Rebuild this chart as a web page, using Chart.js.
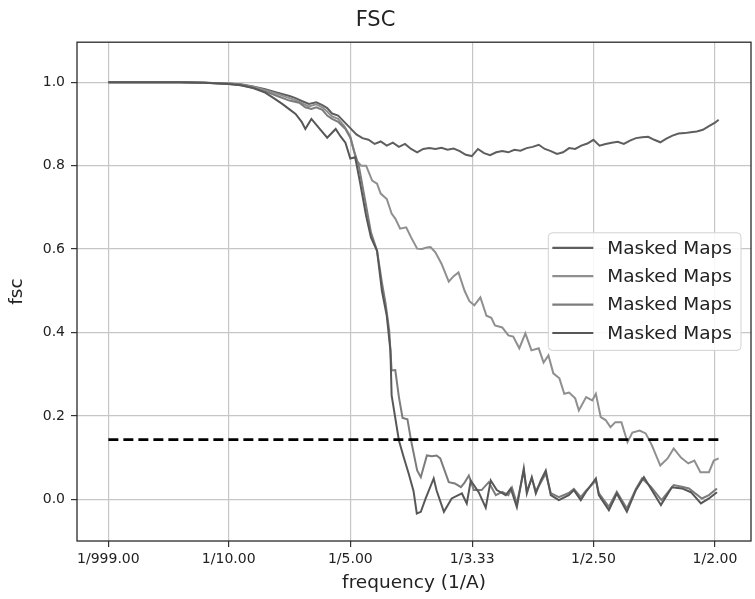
<!DOCTYPE html>
<html>
<head>
<meta charset="utf-8">
<script src="https://cdn.jsdelivr.net/npm/chart.js@4.4.1/dist/chart.umd.min.js"></script>
<style>
  body { margin: 0; background: #fff; }
  canvas { display: block; }
</style>
</head>
<body>
<canvas id="graph1" width="755" height="599"></canvas>
<script>
// tick values / labels (x is spatial frequency, labels are 1/resolution)
const xTickValues = [1 / 999, 1 / 10, 1 / 5, 1 / 3.33, 1 / 2.5, 1 / 2];
const xTickLabels = ['1/999.00', '1/10.00', '1/5.00', '1/3.33', '1/2.50', '1/2.00'];
const yTickValues = [0, 0.2, 0.4, 0.6, 0.8, 1.0];

const seriesLabels = ['Masked Maps', 'Masked Maps', 'Masked Maps', 'Masked Maps'];
const seriesColors = ['#5e5e5e', '#8f8f8f', '#7c7c7c', '#575757'];
const threshold = 0.143;

// [frequency, fsc]
const curve1 = [
  [0.001, 1.0], [0.02, 1.0], [0.04, 1.0], [0.06, 1.0], [0.08, 0.999], [0.10, 0.997], [0.11, 0.995],
  [0.12, 0.99], [0.13, 0.983], [0.14, 0.975], [0.15, 0.967], [0.155, 0.962], [0.16, 0.955],
  [0.166, 0.948], [0.172, 0.952], [0.177, 0.945], [0.181, 0.938], [0.185, 0.925], [0.19, 0.92],
  [0.195, 0.905], [0.20, 0.89], [0.205, 0.875], [0.21, 0.866], [0.215, 0.862], [0.22, 0.852],
  [0.225, 0.858], [0.23, 0.848], [0.235, 0.855], [0.24, 0.845], [0.245, 0.852], [0.25, 0.84],
  [0.255, 0.832], [0.26, 0.84], [0.265, 0.842], [0.27, 0.84], [0.275, 0.843], [0.28, 0.838],
  [0.285, 0.841], [0.29, 0.835], [0.295, 0.826], [0.30, 0.823], [0.305, 0.84], [0.31, 0.83],
  [0.315, 0.825], [0.32, 0.832], [0.325, 0.835], [0.33, 0.832], [0.335, 0.838], [0.34, 0.836],
  [0.345, 0.842], [0.35, 0.845], [0.355, 0.85], [0.36, 0.84], [0.365, 0.835], [0.37, 0.828],
  [0.375, 0.832], [0.38, 0.842], [0.385, 0.84], [0.39, 0.848], [0.395, 0.853], [0.40, 0.862],
  [0.405, 0.848], [0.41, 0.852], [0.415, 0.855], [0.42, 0.857], [0.425, 0.852], [0.43, 0.86],
  [0.435, 0.866], [0.44, 0.868], [0.445, 0.869], [0.45, 0.862], [0.455, 0.856], [0.46, 0.865],
  [0.465, 0.872], [0.47, 0.877], [0.475, 0.878], [0.48, 0.88], [0.485, 0.882], [0.49, 0.886],
  [0.495, 0.895], [0.50, 0.903], [0.503, 0.91]
];

const curve2 = [
  [0.001, 1.0], [0.02, 1.0], [0.04, 1.0], [0.06, 1.0], [0.08, 0.999], [0.10, 0.997], [0.11, 0.994],
  [0.12, 0.989], [0.13, 0.981], [0.14, 0.972], [0.15, 0.962], [0.155, 0.957], [0.16, 0.95],
  [0.166, 0.942], [0.172, 0.947], [0.177, 0.94], [0.181, 0.93], [0.185, 0.918], [0.19, 0.912],
  [0.195, 0.895], [0.20, 0.87], [0.205, 0.812], [0.209, 0.80], [0.213, 0.80], [0.218, 0.764],
  [0.222, 0.757], [0.225, 0.733], [0.23, 0.72], [0.234, 0.685], [0.237, 0.673], [0.241, 0.649],
  [0.246, 0.652], [0.25, 0.628], [0.255, 0.601], [0.259, 0.60], [0.263, 0.604], [0.266, 0.605],
  [0.27, 0.592], [0.275, 0.565], [0.281, 0.522], [0.285, 0.535], [0.289, 0.544], [0.294, 0.50],
  [0.298, 0.475], [0.302, 0.465], [0.307, 0.484], [0.312, 0.44], [0.316, 0.435], [0.319, 0.417],
  [0.325, 0.412], [0.33, 0.393], [0.334, 0.39], [0.339, 0.362], [0.344, 0.398], [0.349, 0.357],
  [0.355, 0.362], [0.359, 0.328], [0.363, 0.345], [0.367, 0.302], [0.372, 0.29], [0.376, 0.253],
  [0.38, 0.256], [0.385, 0.242], [0.388, 0.213], [0.394, 0.245], [0.399, 0.237], [0.402, 0.253],
  [0.406, 0.197], [0.41, 0.19], [0.414, 0.173], [0.418, 0.185], [0.423, 0.185], [0.428, 0.137],
  [0.432, 0.16], [0.438, 0.165], [0.443, 0.158], [0.448, 0.13], [0.455, 0.081], [0.461, 0.098],
  [0.466, 0.122], [0.472, 0.10], [0.478, 0.086], [0.483, 0.093], [0.488, 0.065], [0.495, 0.065],
  [0.499, 0.093], [0.503, 0.098]
];

const curve3 = [
  [0.001, 1.0], [0.02, 1.0], [0.04, 1.0], [0.06, 1.0], [0.08, 0.999], [0.10, 0.996], [0.11, 0.993],
  [0.12, 0.987], [0.13, 0.978], [0.14, 0.967], [0.15, 0.956], [0.158, 0.951], [0.163, 0.94],
  [0.168, 0.936], [0.172, 0.94], [0.177, 0.934], [0.181, 0.92], [0.185, 0.912], [0.19, 0.905],
  [0.196, 0.888], [0.20, 0.867], [0.203, 0.836], [0.207, 0.80], [0.212, 0.72], [0.217, 0.64],
  [0.222, 0.596], [0.226, 0.52], [0.229, 0.47], [0.232, 0.405], [0.234, 0.309], [0.237, 0.31],
  [0.24, 0.245], [0.243, 0.195], [0.247, 0.192], [0.25, 0.141], [0.255, 0.069], [0.258, 0.053],
  [0.263, 0.105], [0.267, 0.103], [0.271, 0.105], [0.274, 0.098], [0.281, 0.041], [0.286, 0.038],
  [0.291, 0.029], [0.294, 0.04], [0.2975, 0.057], [0.3016, 0.022], [0.308, 0.022], [0.3139, 0.041],
  [0.3197, 0.01], [0.325, 0.018], [0.33, 0.01], [0.333, 0.028], [0.337, -0.01], [0.3427, 0.068],
  [0.3452, 0.02], [0.3493, 0.05], [0.3526, 0.02], [0.3567, 0.04], [0.3608, 0.062], [0.3649, 0.015],
  [0.3715, 0.005], [0.3797, 0.015], [0.3839, 0.025], [0.3896, 0.005], [0.3937, 0.02],
  [0.402, 0.045], [0.4044, 0.015], [0.4127, -0.018], [0.4192, 0.018], [0.4275, -0.022],
  [0.4349, 0.025], [0.44, 0.05], [0.4472, 0.03], [0.456, -0.002], [0.466, 0.034], [0.4728, 0.03],
  [0.4786, 0.026], [0.4892, 0.002], [0.495, 0.01], [0.5016, 0.026]
];

const curve4 = [
  [0.001, 1.0], [0.02, 1.0], [0.04, 1.0], [0.06, 1.0], [0.08, 0.999], [0.10, 0.996], [0.11, 0.993],
  [0.12, 0.986], [0.13, 0.975], [0.137, 0.962], [0.144, 0.948], [0.15, 0.935], [0.155, 0.924],
  [0.16, 0.905], [0.163, 0.888], [0.168, 0.912], [0.174, 0.891], [0.181, 0.867], [0.188, 0.888],
  [0.192, 0.87], [0.196, 0.855], [0.20, 0.817], [0.204, 0.82], [0.208, 0.76], [0.213, 0.68],
  [0.217, 0.628], [0.222, 0.596], [0.226, 0.50], [0.23, 0.44], [0.233, 0.357], [0.234, 0.249],
  [0.24, 0.141], [0.244, 0.10], [0.248, 0.062], [0.252, 0.02], [0.2547, -0.034], [0.258, -0.03],
  [0.262, 0.002], [0.2686, 0.05], [0.271, 0.021], [0.277, -0.03], [0.2834, 0.002], [0.2918, 0.014],
  [0.2958, -0.01], [0.2991, 0.045], [0.3056, 0.017], [0.3114, -0.02], [0.3155, 0.045],
  [0.3205, 0.022], [0.3279, 0.01], [0.332, 0.026], [0.337, -0.019], [0.3427, 0.074],
  [0.3452, 0.014], [0.3493, 0.053], [0.3526, 0.014], [0.3567, 0.045], [0.3608, 0.069],
  [0.3649, 0.01], [0.3715, -0.002], [0.3797, 0.01], [0.3839, 0.022], [0.3896, -0.002],
  [0.3937, 0.017], [0.402, 0.05], [0.4044, 0.01], [0.4127, -0.026], [0.4192, 0.014],
  [0.4275, -0.03], [0.4349, 0.022], [0.4415, 0.053], [0.4472, 0.026], [0.4555, -0.014],
  [0.4645, 0.029], [0.4728, 0.026], [0.4802, 0.017], [0.4884, -0.01], [0.495, 0.002], [0.5016, 0.017]
];

const curves = [curve1, curve2, curve3, curve4];
const FONT = 'DejaVu Sans';

var datasets = curves.map(function (c, i) {
  return {
    label: seriesLabels[i],
    data: c.map(p => ({ x: p[0], y: p[1] })),
    borderColor: seriesColors[i],
    borderWidth: 2,
    pointRadius: 0,
    tension: 0,
    order: 5 - i
  };
});
datasets.push({
  label: 'threshold',
  data: [{ x: 1 / 999, y: threshold }, { x: 0.503, y: threshold }],
  borderColor: '#000',
  borderWidth: 2.6,
  borderDash: [10, 5],
  pointRadius: 0,
  order: 0
});

// white background + frame around plot area
var framePlugin = {
  id: 'frame',
  beforeDraw(chart) {
    const c = chart.ctx;
    c.save();
    c.fillStyle = '#fff';
    c.fillRect(0, 0, chart.width, chart.height);
    c.restore();
  },
  afterDatasetsDraw(chart) {
    const a = chart.chartArea, c = chart.ctx;
    c.save();
    c.strokeStyle = '#2a2a2a';
    c.lineWidth = 1.3;
    c.strokeRect(a.left, a.top, a.right - a.left, a.bottom - a.top);
    c.restore();
  }
};

// matplotlib style legend box at center right inside the plot
var boxLegend = {
  id: 'boxLegend',
  afterDraw(chart) {
    const c = chart.ctx, a = chart.chartArea;
    const items = chart.data.datasets.filter(d => d.label !== 'threshold');
    c.save();
    c.font = '18.5px "' + FONT + '"';
    let tw = 0;
    items.forEach(d => { tw = Math.max(tw, c.measureText(d.label).width); });
    const rowH = 28.4;
    const w = 4 + 41 + 14 + tw + 9;
    const h = items.length * rowH + 4;
    const x0 = a.right - 10 - w;
    const y0 = (a.top + a.bottom) / 2 - h / 2;
    c.beginPath();
    c.roundRect(x0, y0, w, h, 4);
    c.fillStyle = 'rgba(255,255,255,0.85)';
    c.fill();
    c.strokeStyle = '#d2d2d2';
    c.lineWidth = 1;
    c.stroke();
    items.forEach((d, i) => {
      const cy = y0 + 15 + i * rowH;
      c.strokeStyle = d.borderColor;
      c.lineWidth = 2.2;
      c.beginPath();
      c.moveTo(x0 + 4, cy);
      c.lineTo(x0 + 45, cy);
      c.stroke();
      c.fillStyle = '#222';
      c.textBaseline = 'middle';
      c.textAlign = 'left';
      c.fillText(d.label, x0 + 59, cy + 1);
    });
    c.restore();
  }
};

var ctx = document.getElementById('graph1').getContext('2d');
var config = {
  type: 'line',
  data: { datasets: datasets },
  options: {
    responsive: false,
    animation: false,
    parsing: false,
    layout: { padding: { left: 0, right: 4, top: 0, bottom: 0 } },
    plugins: {
      legend: { display: false },
      tooltip: { enabled: false },
      title: {
        display: true,
        text: 'FSC',
        color: '#222',
        font: { family: FONT, size: 21, weight: 'normal' },
        padding: { top: 8, bottom: 9 }
      }
    },
    scales: {
      x: {
        type: 'linear',
        min: -0.0248,
        max: 0.5296,
        afterBuildTicks: function (scale) {
          scale.ticks = xTickValues.map(v => ({ value: v }));
        },
        afterFit: function (scale) { scale.height = 58; },
        ticks: {
          autoSkip: false,
          maxRotation: 0,
          color: '#222',
          padding: 4,
          font: { family: FONT, size: 14 },
          callback: function (value, index) { return xTickLabels[index]; }
        },
        grid: { color: '#c6c6c6', lineWidth: 1.2, tickColor: '#333', tickLength: 6 },
        border: { display: false },
        title: {
          display: true,
          text: 'frequency (1/A)',
          color: '#222',
          font: { family: FONT, size: 18.5 },
          padding: { top: 0, bottom: 5 }
        }
      },
      y: {
        min: -0.1,
        max: 1.096,
        afterBuildTicks: function (scale) {
          scale.ticks = yTickValues.map(v => ({ value: v }));
        },
        afterFit: function (scale) { scale.width = 77; },
        ticks: {
          color: '#222',
          padding: 6,
          font: { family: FONT, size: 14 },
          callback: function (value) { return value.toFixed(1); }
        },
        grid: { color: '#c6c6c6', lineWidth: 1.2, tickColor: '#333', tickLength: 6 },
        border: { display: false },
        title: {
          display: true,
          text: 'fsc',
          color: '#222',
          font: { family: FONT, size: 18.5 },
          padding: { top: 6, bottom: 0 }
        }
      }
    }
  },
  plugins: [framePlugin, boxLegend]
};
var graph1 = new Chart(ctx, config);
</script>
</body>
</html>
